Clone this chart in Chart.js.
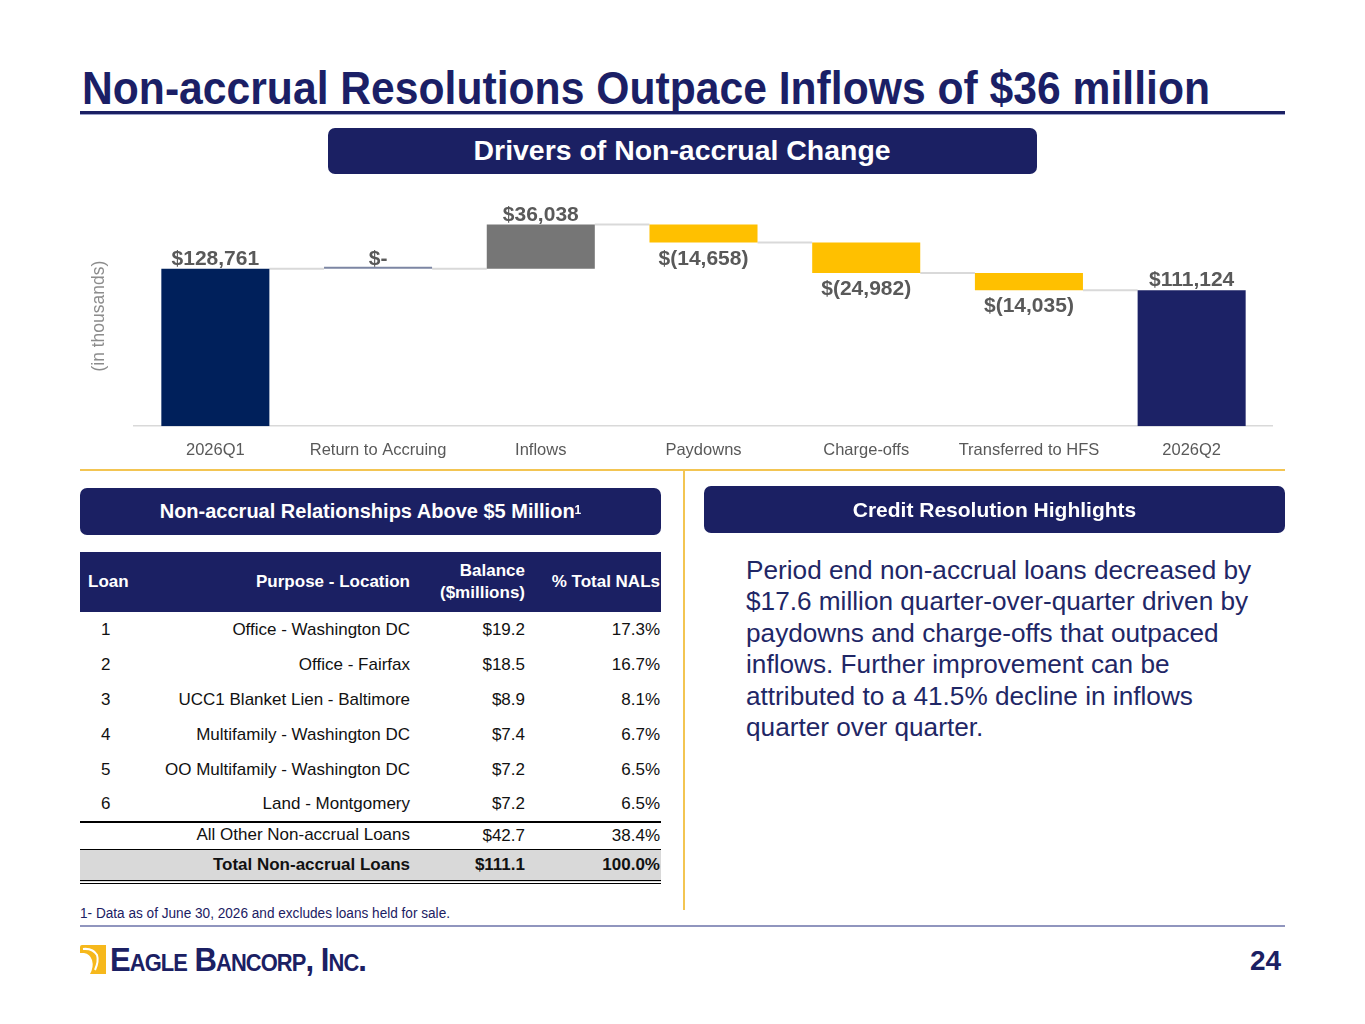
<!DOCTYPE html>
<html>
<head>
<meta charset="utf-8">
<script src="https://cdn.jsdelivr.net/npm/chart.js@4.4.1/dist/chart.umd.min.js"></script>
<style>
  html, body { margin:0; padding:0; background:#fff; }
  body { width:1365px; height:1024px; position:relative; overflow:hidden; font-family:"Liberation Sans", Arial, sans-serif; }
  .abs { position:absolute; }
  .fit { white-space:nowrap; display:inline-block; }
  #title { left:82px; top:60px; font-size:46px; font-weight:bold; color:#1B1F66; line-height:56px; }
  #titleRule { left:80px; top:111px; width:1205px; height:3px; background:#1B2063; border-bottom:1px solid #9aa0c8; }
  .pill { background:#1B2063; color:#fff; border-radius:7px; font-weight:bold; display:flex; align-items:center; justify-content:center; }
  #chartWrap { left:86px; top:186px; width:1187px; height:288px; }
  .goldH { left:80px; top:469px; width:1205px; height:2px; background:#F3C552; }
  .goldV { left:683px; top:470px; width:2px; height:440px; background:#F3C552; }
  table { border-collapse:collapse; font-size:17px; color:#111; }
  td, th { padding:0; }
  #para { left:746px; top:555px; font-size:26.2px; line-height:31.4px; color:#1F2766; }
  #foot { left:80px; top:905px; font-size:14px; color:#1B2063; }
  #footRule { left:80px; top:925px; width:1205px; height:2px; background:#9095BE; }
  #pg { left:1250px; top:945px; font-size:28px; font-weight:bold; color:#1B2063; }
  #logoTxt { left:110px; top:941px; font-size:34px; font-weight:bold; color:#1B2063; font-variant:small-caps; letter-spacing:-1px; line-height:36px; }
</style>
</head>
<body>
<div id="title" class="abs fit" data-w="1128">Non-accrual Resolutions Outpace Inflows of $36 million</div>
<div id="titleRule" class="abs"></div>

<div class="abs pill" style="left:328px;top:128px;width:709px;height:46px;">
  <span class="fit" data-w="417" data-c="1" style="font-size:27px;">Drivers of Non-accrual Change</span>
</div>

<div id="chartWrap" class="abs"><canvas id="c"></canvas></div>

<div class="abs goldH"></div>
<div class="abs goldV"></div>

<div class="abs pill" style="left:80px;top:488px;width:581px;height:47px;font-size:20px;">Non-accrual Relationships Above $5 Million<sup style="font-size:12px;position:relative;top:-2px;">1</sup></div>
<div class="abs pill" style="left:704px;top:486px;width:581px;height:47px;font-size:21px;">Credit Resolution Highlights</div>

<div class="abs" id="tableWrap" style="left:80px;top:552px;width:581px;"></div>

<div id="para" class="abs">Period end non-accrual loans decreased by<br>$17.6 million quarter-over-quarter driven by<br>paydowns and charge-offs that outpaced<br>inflows. Further improvement can be<br>attributed to a 41.5% decline in inflows<br>quarter over quarter.</div>

<div id="foot" class="abs fit" data-w="370">1- Data as of June 30, 2026 and excludes loans held for sale.</div>
<div id="footRule" class="abs"></div>

<svg class="abs" style="left:80px;top:945px;" width="28" height="29" viewBox="0 0 28 29">
  <path d="M0 2 Q0 0 2 0 L26 0 L26 29 L10 29 Q14 22 12 15 Q10 9 4 8 L0 8 Z" fill="#F6B81C"/>
  <path d="M2 3 Q12 2 16 8 Q19 14 16 22 Q14 26 12 29 L26 29 L26 3 Z" fill="#F6B81C"/>
  <path d="M3 4 Q13 3 17 10 Q19 16 15 25" stroke="#fff" stroke-width="2" fill="none"/>
</svg>
<div id="logoTxt" class="abs fit" data-w="256">Eagle Bancorp, Inc.</div>
<div id="pg" class="abs">24</div>

<script>
// ---------------- DATA ----------------
const categories = ['2026Q1', 'Return to Accruing', 'Inflows', 'Paydowns', 'Charge-offs', 'Transferred to HFS', '2026Q2'];
const changes    = [128761, 0, 36038, -14658, -24982, -14035, 111124];
const barKinds   = ['total', 'delta', 'delta', 'delta', 'delta', 'delta', 'total'];
const valueLabels = ['$128,761', '$-', '$36,038', '$(14,658)', '$(24,982)', '$(14,035)', '$111,124'];
const yAxisTitle = '(in thousands)';

const loanNums   = ['1', '2', '3', '4', '5', '6'];
const purposes   = ['Office - Washington DC', 'Office - Fairfax', 'UCC1 Blanket Lien - Baltimore', 'Multifamily - Washington DC', 'OO Multifamily - Washington DC', 'Land - Montgomery'];
const balances   = ['$19.2', '$18.5', '$8.9', '$7.4', '$7.2', '$7.2'];
const pctTotals  = ['17.3%', '16.7%', '8.1%', '6.7%', '6.5%', '6.5%'];
const otherRow   = ['', 'All Other Non-accrual Loans', '$42.7', '38.4%'];
const totalRow   = ['', 'Total Non-accrual Loans', '$111.1', '100.0%'];

// ---------------- TABLE ----------------
(function buildTable(){
  let h = '<table style="width:581px;table-layout:fixed;">';
  h += '<colgroup><col style="width:55px"><col style="width:277px"><col style="width:115px"><col style="width:134px"></colgroup>';
  h += '<tr style="background:#1B2063;color:#fff;height:60px;font-weight:bold;">' +
       '<td style="text-align:left;padding-left:8px;">Loan</td>' +
       '<td style="text-align:right;padding-right:2px;">Purpose - Location</td>' +
       '<td style="text-align:right;padding-right:2px;line-height:22px;">Balance<br>($millions)</td>' +
       '<td style="text-align:right;padding-right:1px;">% Total NALs</td></tr>';
  for (let i = 0; i < loanNums.length; i++) {
    const last = i === loanNums.length - 1;
    h += '<tr style="height:35px;' + (last ? 'border-bottom:2px solid #000;' : '') + '">' +
         '<td style="text-align:left;padding-left:21px;">' + loanNums[i] + '</td>' +
         '<td style="text-align:right;padding-right:2px;">' + purposes[i] + '</td>' +
         '<td style="text-align:right;padding-right:2px;">' + balances[i] + '</td>' +
         '<td style="text-align:right;padding-right:1px;">' + pctTotals[i] + '</td></tr>';
  }
  h += '<tr style="height:27px;border-bottom:1px solid #000;">' +
       '<td></td><td style="text-align:right;padding-right:2px;vertical-align:top;padding-top:2px;">' + otherRow[1] + '</td>' +
       '<td style="text-align:right;padding-right:2px;">' + otherRow[2] + '</td>' +
       '<td style="text-align:right;padding-right:1px;">' + otherRow[3] + '</td></tr>';
  h += '<tr style="height:33px;background:#D9D9D9;font-weight:bold;border-bottom:4px double #000;">' +
       '<td></td><td style="text-align:right;padding-right:2px;">' + totalRow[1] + '</td>' +
       '<td style="text-align:right;padding-right:2px;">' + totalRow[2] + '</td>' +
       '<td style="text-align:right;padding-right:1px;">' + totalRow[3] + '</td></tr>';
  h += '</table>';
  document.getElementById('tableWrap').innerHTML = h;
})();

// ---------------- fit condensed text ----------------
document.querySelectorAll('.fit[data-w]').forEach(el => {
  const w = el.getBoundingClientRect().width;
  const target = parseFloat(el.dataset.w);
  el.style.transformOrigin = el.dataset.c ? 'center center' : 'left center';
  el.style.transform = 'scaleX(' + (target / w) + ')';
});

// ---------------- CHART ----------------
const ranges = [];
let running = 0;
changes.forEach((v, i) => {
  if (barKinds[i] === 'total') { ranges.push([0, v]); running = v; }
  else { ranges.push([running, running + v]); running += v; }
});
const barColors = changes.map((v, i) => {
  if (barKinds[i] === 'total') return i === 0 ? '#00205B' : '#1C2266';
  if (v === 0) return '#7C86A3';
  return v > 0 ? '#767676' : '#FFC000';
});

const connectorPlugin = {
  id: 'connectors',
  beforeDatasetsDraw(chart) {
    const meta = chart.getDatasetMeta(0);
    const y = chart.scales.y;
    const ctx = chart.ctx;
    ctx.save();
    ctx.strokeStyle = '#D9D9D9';
    ctx.lineWidth = 2;
    for (let i = 0; i < meta.data.length - 1; i++) {
      const a = meta.data[i], b = meta.data[i + 1];
      const level = y.getPixelForValue(ranges[i][1]);
      ctx.beginPath();
      ctx.moveTo(a.x + a.width / 2, level);
      ctx.lineTo(b.x - b.width / 2, level);
      ctx.stroke();
    }
    ctx.restore();
  }
};

const labelPlugin = {
  id: 'valueLabels',
  afterDatasetsDraw(chart) {
    const meta = chart.getDatasetMeta(0);
    const y = chart.scales.y;
    const ctx = chart.ctx;
    ctx.save();
    ctx.font = 'bold 21px "Liberation Sans", Arial, sans-serif';
    ctx.fillStyle = '#595959';
    ctx.textAlign = 'center';
    ctx.textBaseline = 'alphabetic';
    meta.data.forEach((bar, i) => {
      const top = y.getPixelForValue(Math.max(ranges[i][0], ranges[i][1]));
      const bot = y.getPixelForValue(Math.min(ranges[i][0], ranges[i][1]));
      if (changes[i] >= 0) ctx.fillText(valueLabels[i], bar.x, top - 4);
      else ctx.fillText(valueLabels[i], bar.x, bot + 22);
    });
    ctx.restore();
  }
};

new Chart(document.getElementById('c'), {
  type: 'bar',
  data: {
    labels: categories,
    datasets: [{
      data: ranges,
      backgroundColor: barColors,
      borderWidth: 0,
      barPercentage: 0.664,
      categoryPercentage: 1,
      minBarLength: 2
    }]
  },
  options: {
    responsive: true,
    maintainAspectRatio: false,
    animation: false,
    layout: { padding: { top: 20, left: 0, right: 0, bottom: 0 } },
    plugins: { legend: { display: false }, tooltip: { enabled: false } },
    scales: {
      x: {
        grid: { display: false, drawTicks: false },
        border: { display: true, color: '#D9D9D9', width: 1.5 },
        ticks: { color: '#595959', font: { size: 16.5, family: '"Liberation Sans", Arial, sans-serif' }, padding: 14, autoSkip: false, maxRotation: 0 }
      },
      y: {
        min: 0, max: 180000,
        grid: { display: false, drawTicks: false },
        border: { display: false },
        ticks: { display: false },
        title: { display: true, text: yAxisTitle, color: '#8C8C8C', font: { size: 17.5, family: '"Liberation Sans", Arial, sans-serif' }, padding: { top: 3, bottom: 24 } }
      }
    }
  },
  plugins: [connectorPlugin, labelPlugin]
});
</script>
</body>
</html>
